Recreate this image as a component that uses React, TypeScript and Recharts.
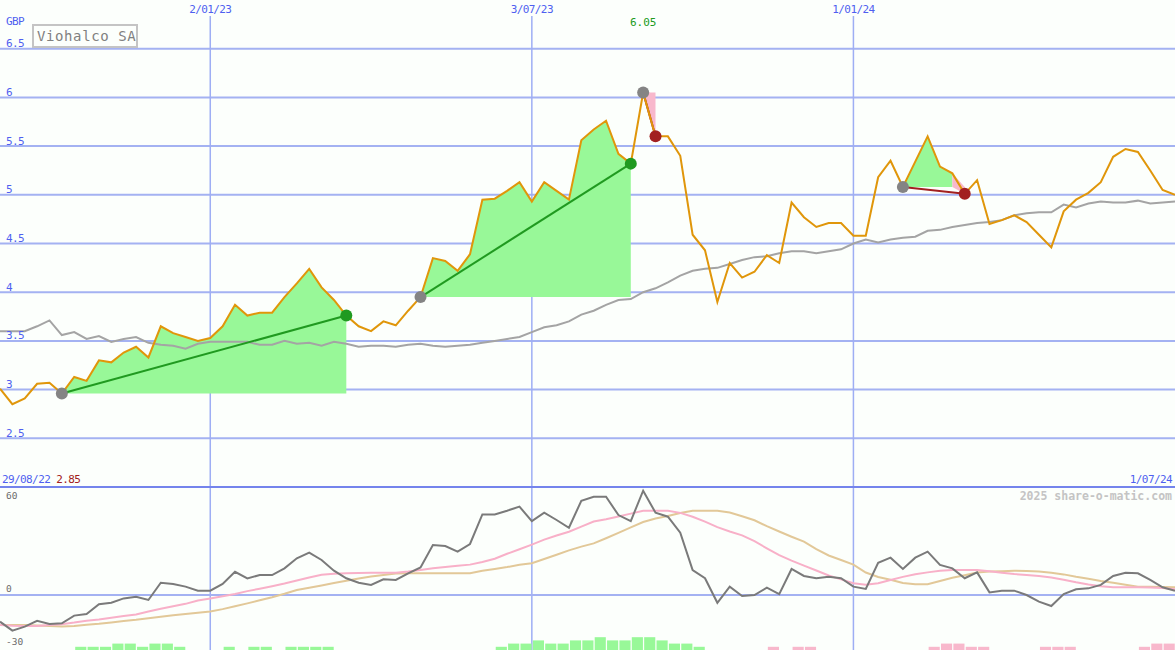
import React from 'react';
import { ComposedChart, Line, Area, Bar, XAxis, YAxis, CartesianGrid, ReferenceLine } from 'recharts';

// ---------- data ----------
const startDateLabel = '29/08/22';
const endDateLabel = '1/07/24';
const titleText = 'Viohalco SA';
const currencyLabel = 'GBP';
const watermark = '2025 share-o-matic.com';

const dateTickIdx = [17, 43, 69];
const dateTickLabels = ['2/01/23', '3/07/23', '1/01/24'];
const priceTicks = [2.5, 3, 3.5, 4, 4.5, 5, 5.5, 6, 6.5];
const oscTicks = [-30, 0, 60];

const price = [
  3.01, 2.85, 2.91, 3.06, 3.07, 2.96, 3.13, 3.09, 3.30, 3.28,
  3.38, 3.44, 3.33, 3.65, 3.58, 3.54, 3.50, 3.53, 3.65, 3.87,
  3.76, 3.79, 3.79, 3.95, 4.09, 4.24, 4.05, 3.92, 3.76, 3.65,
  3.60, 3.70, 3.66, 3.81, 3.95, 4.35, 4.32, 4.22, 4.39, 4.95,
  4.96, 5.04, 5.13, 4.93, 5.13, 5.04, 4.95, 5.56, 5.67, 5.76,
  5.42, 5.32, 6.05, 5.60, 5.60, 5.40, 4.59, 4.43, 3.90, 4.30,
  4.15, 4.21, 4.38, 4.30, 4.92, 4.77, 4.67, 4.71, 4.71, 4.58,
  4.58, 5.18, 5.35, 5.08, 5.34, 5.60, 5.29, 5.22, 5.01, 5.15,
  4.70, 4.74, 4.79, 4.72, 4.59, 4.46, 4.83, 4.95, 5.02, 5.13,
  5.39, 5.47, 5.44, 5.25, 5.05, 5.00,
];

const movingAvg = [
  3.60, 3.60, 3.60, 3.65, 3.71, 3.56, 3.59, 3.52, 3.55, 3.49,
  3.52, 3.54, 3.48, 3.46, 3.45, 3.42, 3.47, 3.49, 3.49, 3.49,
  3.49, 3.46, 3.46, 3.50, 3.47, 3.48, 3.45, 3.49, 3.47, 3.44,
  3.45, 3.45, 3.44, 3.46, 3.47, 3.45, 3.44, 3.45, 3.46, 3.48,
  3.50, 3.52, 3.54, 3.59, 3.64, 3.66, 3.70, 3.77, 3.81, 3.87,
  3.92, 3.93, 4.00, 4.04, 4.10, 4.17, 4.22, 4.24, 4.25, 4.29,
  4.33, 4.36, 4.37, 4.40, 4.42, 4.42, 4.40, 4.42, 4.44, 4.50,
  4.54, 4.51, 4.54, 4.56, 4.57, 4.63, 4.64, 4.67, 4.69, 4.71,
  4.72, 4.74, 4.79, 4.81, 4.82, 4.82, 4.90, 4.87, 4.91, 4.93,
  4.92, 4.92, 4.94, 4.91, 4.92, 4.93,
];

const oscillator = [
  -17.2, -23, -20.4, -16.6, -18.7, -18.3, -13.3, -12.3, -6, -5,
  -2.2, -1.1, -3.2, 7.9, 7.1, 5.4, 2.8, 2.8, 7.1, 15,
  10.7, 12.9, 12.9, 17.2, 23.7, 27.3, 22.6, 15.7, 10.8, 7.9,
  6.5, 10.1, 9.7, 14, 17.8, 32.3, 31.6, 28, 32.9, 52,
  52, 54.4, 57, 47.7, 53.1, 48.4, 43.4, 60.8, 63.4, 63.4,
  51.6, 47.7, 67.3, 53.1, 50.5, 40.2, 16.1, 10.8, -5, 5.4,
  -0.6, 0, 4.7, 0.6, 16.8, 12.3, 10.8, 11.8, 10.8, 5.4,
  3.9, 20.8, 24.1, 16.8, 24.1, 28, 19.4, 17.2, 10.8, 14.6,
  1.7, 2.8, 2.8, 0, -4.3, -7.1, 0.6, 3.7, 4.3, 6.5,
  12.3, 14.4, 14, 9.7, 5, 2.8,
];

const signalFast = [
  -19.4, -19.8, -20, -20, -19.3, -18.8, -17.8, -16.6, -15.8, -14.7,
  -13.6, -12.6, -10.7, -8.9, -7.2, -5.7, -3.5, -2.2, -0.8, 0.7,
  2.5, 4.1, 5.7, 7.4, 9.3, 11.3, 13.1, 13.7, 14.0, 14.2,
  14.3, 14.4, 14.4, 15.1, 16.2, 17.2, 18.0, 18.8, 19.6, 21.3,
  23.4, 26.6, 29.5, 32.5, 35.7, 38.4, 40.8, 44.1, 47.4, 48.9,
  50.7, 52.5, 54.4, 54.4, 54.4, 53.0, 50.5, 47.3, 43.8, 41.0,
  38.5, 34.7, 30.1, 25.7, 22.2, 19.0, 15.8, 12.6, 10.1, 7.6,
  6.6, 7.6, 9.7, 11.7, 13.4, 14.6, 15.6, 16.1, 16.1, 16.1,
  15.3, 14.4, 13.5, 12.9, 12.2, 11.3, 9.9, 8.2, 6.8, 5.6,
  5.0, 5.0, 5.0, 4.9, 4.5, 3.7,
];

const signalSlow = [
  -19.4, -19.4, -19.4, -19.6, -20.0, -20.3, -20.0, -19.2, -18.6, -17.7,
  -16.8, -16.0, -15.0, -14.0, -13.1, -12.3, -11.4, -10.7, -9.1, -7.3,
  -5.4, -3.4, -1.4, 0.8, 3.2, 4.7, 6.2, 7.7, 9.2, 10.6,
  11.9, 12.9, 13.9, 14.0, 14.0, 14.0, 14.0, 14.0, 14.1, 15.6,
  16.8, 18.0, 19.5, 20.5, 23.2, 26.0, 28.8, 31.2, 33.3, 36.6,
  40.1, 43.6, 47.1, 49.3, 51.0, 52.9, 54.4, 54.4, 54.4, 53.2,
  50.8, 48.2, 44.4, 41.0, 37.6, 34.4, 29.6, 25.5, 22.6, 19.6,
  14.5, 11.6, 9.9, 7.8, 6.9, 6.9, 9.0, 11.1, 12.8, 14.5,
  15.2, 15.4, 15.7, 15.5, 15.2, 14.4, 13.3, 11.8, 10.5, 9.1,
  7.9, 6.6, 5.4, 5.3, 5.2, 5.0,
];

const histUp = [
  0, 0, 0, 0, 0, 0, 1, 1, 1, 2,
  2, 1, 2, 2, 1, 0, 0, 0, 1, 0,
  1, 1, 0, 1, 1, 1, 1, 0, 0, 0,
  0, 0, 0, 0, 0, 0, 0, 0, 0, 0,
  1, 2, 2, 3, 2, 2, 3, 3, 4, 3,
  3, 4, 4, 3, 2, 2, 1, 0, 0, 0,
  0, 0, 0, 0, 0, 0, 0, 0, 0, 0,
  0, 0, 0, 0, 0, 0, 0, 0, 0, 0,
  0, 0, 0, 0, 0, 0, 0, 0, 0, 0,
  0, 0, 0, 0, 0, 0,
];

const histDown = [
  0, 0, 0, 0, 0, 0, 0, 0, 0, 0,
  0, 0, 0, 0, 0, 0, 0, 0, 0, 0,
  0, 0, 0, 0, 0, 0, 0, 0, 0, 0,
  0, 0, 0, 0, 0, 0, 0, 0, 0, 0,
  0, 0, 0, 0, 0, 0, 0, 0, 0, 0,
  0, 0, 0, 0, 0, 0, 0, 0, 0, 0,
  0, 0, 1, 0, 1, 1, 0, 0, 0, 0,
  0, 0, 0, 0, 0, 1, 2, 2, 1, 1,
  0, 0, 0, 0, 1, 1, 1, 0, 0, 0,
  0, 0, 1, 2, 2, 0,
];

// trade signals: start index -> end index
const signals = [
  { from: 5, to: 28 },
  { from: 34, to: 51 },
  { from: 52, to: 53 },
  { from: 73, to: 78 },
];

// ---------- styling ----------
const W = 1175;
const H = 650;
const MONO = '"DejaVu Sans Mono", "Liberation Mono", monospace';
const BLUE = '#4f5ff0';
const GRID = '#a4b2f2';
const SEP = '#7484ec';
const ORANGE = '#e0960a';
const MA_GRAY = '#a4a4a4';
const FILL_GREEN = '#98f898';
const FILL_PINK = '#f8b8cc';
const GREEN = '#209a20';
const RED = '#a22020';
const MARK_GRAY = '#848484';
const OSC_DARK = '#7a7a7a';
const SIG_PINK = '#f8b0c8';
const SIG_TAN = '#e2c898';

const maxVal = Math.max(...price);
const maxIdx = price.indexOf(maxVal);
const minVal = Math.min(...price);

const isGain = (s: { from: number; to: number }) => price[s.to] > price[s.from];

const data = price.map((p, i) => {
  const row: any = {
    i,
    price: p,
    ma: movingAvg[i],
    osc: oscillator[i],
    sigA: signalFast[i],
    sigB: signalSlow[i],
    up: histUp[i] ? histUp[i] : null,
    down: histDown[i] ? histDown[i] : null,
  };
  signals.forEach((s, k) => {
    const base = price[s.from];
    const gain = isGain(s);
    const greenEnd = gain ? s.to : s.to - 1;
    const pinkStart = gain ? s.to + 1 : s.to - 1;
    row['g' + k] = i >= s.from && i <= greenEnd ? [base, Math.max(p, base)] : null;
    row['p' + k] = i >= pinkStart && i <= s.to ? [Math.min(p, base), Math.max(p, base)] : null;
    row['t' + k] = i === s.from || i === s.to ? p : null;
  });
  row.mkStart = signals.some((s) => s.from === i) ? p : null;
  row.mkGain = signals.some((s) => s.to === i && isGain(s)) ? p : null;
  row.mkLoss = signals.some((s) => s.to === i && !isGain(s)) ? p : null;
  return row;
});

const DateTick = (props: any) => {
  const { x, payload } = props;
  const idx = dateTickIdx.indexOf(payload.value);
  return (
    <text x={x} y={12.5} textAnchor="middle" fill={BLUE} fontSize={11} fontFamily={MONO} letterSpacing={-0.6}>
      {dateTickLabels[idx]}
    </text>
  );
};

const PriceTick = (props: any) => {
  const { y, payload } = props;
  const v = payload.value;
  return (
    <text x={6} y={y - 1.5} textAnchor="start" fill={BLUE} fontSize={11} fontFamily={MONO} letterSpacing={-0.6}>
      {Number.isInteger(v) ? String(v) : v.toFixed(1)}
    </text>
  );
};

const OscTick = (props: any) => {
  const { y, payload } = props;
  const v = payload.value;
  return (
    <text x={6} y={v < 0 ? y + 3.5 : y - 3} textAnchor="start" fill="#6c6c6c" fontSize={9.5} fontFamily={MONO}>
      {String(v)}
    </text>
  );
};

export default function App() {
  return (
    <div style={{ position: 'absolute', left: 0, top: 0, width: W, height: H, background: '#fcfffc', overflow: 'hidden' }}>
      <ComposedChart width={W} height={H} data={data} margin={{ top: 0, right: 0, bottom: 0, left: 0 }}>
        <XAxis
          dataKey="i"
          type="number"
          domain={[0, 95]}
          allowDataOverflow
          orientation="top"
          height={16}
          ticks={dateTickIdx}
          interval={0}
          axisLine={false}
          tickLine={false}
          tick={DateTick}
        />
        <XAxis xAxisId="h" dataKey="i" type="number" domain={[-0.5, 94.5]} allowDataOverflow hide />
        <YAxis
          yAxisId="price"
          type="number"
          domain={[0.3265, 6.8357]}
          allowDataOverflow
          ticks={priceTicks}
          interval={0}
          width={40}
          mirror
          axisLine={false}
          tickLine={false}
          tick={PriceTick}
        />
        <YAxis
          yAxisId="osc"
          type="number"
          domain={[-35.48, 373.55]}
          allowDataOverflow
          ticks={oscTicks}
          interval={0}
          width={40}
          mirror
          axisLine={false}
          tickLine={false}
          tick={OscTick}
        />
        <YAxis yAxisId="hist" type="number" domain={[0, 198]} allowDataOverflow hide />

        <CartesianGrid yAxisId="price" vertical={false} syncWithTicks stroke={GRID} strokeWidth={2} fill="none" />
        <CartesianGrid yAxisId="price" horizontal={false} syncWithTicks stroke="#9eaef4" strokeWidth={1.5} fill="none" />

        <ReferenceLine yAxisId="price" y={2} stroke={SEP} strokeWidth={2} />
        <ReferenceLine yAxisId="osc" y={0} stroke={GRID} strokeWidth={2} />
        <ReferenceLine
          yAxisId="price"
          x={maxIdx}
          stroke="none"
          label={{ value: maxVal.toFixed(2), position: 'insideTop', offset: 2, fill: GREEN, fontSize: 11, fontFamily: MONO }}
        />

        {signals.map((s, k) => (
          <Area
            key={'g' + k}
            yAxisId="price"
            dataKey={'g' + k}
            stroke="none"
            fill={FILL_GREEN}
            fillOpacity={1}
            isAnimationActive={false}
            activeDot={false}
          />
        ))}
        {signals.map((s, k) => (
          <Area
            key={'p' + k}
            yAxisId="price"
            dataKey={'p' + k}
            stroke="none"
            fill={FILL_PINK}
            fillOpacity={1}
            isAnimationActive={false}
            activeDot={false}
          />
        ))}

        <Bar xAxisId="h" yAxisId="hist" dataKey="up" stackId="h" fill={FILL_GREEN} barSize={W / 95} isAnimationActive={false} />
        <Bar xAxisId="h" yAxisId="hist" dataKey="down" stackId="h" fill={FILL_PINK} barSize={W / 95} isAnimationActive={false} />

        <Line yAxisId="osc" dataKey="sigB" stroke={SIG_TAN} strokeWidth={2} dot={false} activeDot={false} isAnimationActive={false} />
        <Line yAxisId="osc" dataKey="sigA" stroke={SIG_PINK} strokeWidth={2} dot={false} activeDot={false} isAnimationActive={false} />
        <Line yAxisId="osc" dataKey="osc" stroke={OSC_DARK} strokeWidth={2} dot={false} activeDot={false} isAnimationActive={false} />

        <Line yAxisId="price" dataKey="ma" stroke={MA_GRAY} strokeWidth={2} dot={false} activeDot={false} isAnimationActive={false} />

        {signals.map((s, k) => (
          <Line
            key={'t' + k}
            yAxisId="price"
            dataKey={'t' + k}
            stroke={isGain(s) ? GREEN : RED}
            strokeWidth={2}
            connectNulls
            dot={false}
            activeDot={false}
            isAnimationActive={false}
          />
        ))}

        <Line yAxisId="price" dataKey="price" stroke={ORANGE} strokeWidth={2} dot={false} activeDot={false} isAnimationActive={false} />

        <Line yAxisId="price" dataKey="mkStart" stroke="none" dot={{ r: 6, fill: MARK_GRAY, stroke: 'none' }} activeDot={false} isAnimationActive={false} />
        <Line yAxisId="price" dataKey="mkGain" stroke="none" dot={{ r: 6, fill: GREEN, stroke: 'none' }} activeDot={false} isAnimationActive={false} />
        <Line yAxisId="price" dataKey="mkLoss" stroke="none" dot={{ r: 6, fill: RED, stroke: 'none' }} activeDot={false} isAnimationActive={false} />
      </ComposedChart>

      <svg width={W} height={H} style={{ position: 'absolute', left: 0, top: 0, pointerEvents: 'none' }}>
        <text x={6} y={25} fill={BLUE} fontSize={11} fontFamily={MONO} letterSpacing={-0.6}>{currencyLabel}</text>
        <rect x={33} y={25} width={104} height={22} fill="#fcfffc" stroke="#c4c4c4" strokeWidth={2} />
        <text x={37} y={41} fill="#808080" fontSize={14} fontFamily={MONO} letterSpacing={0.6}>{titleText}</text>
        <text x={2} y={482.5} fontSize={11} fontFamily={MONO} letterSpacing={-0.6}>
          <tspan fill={BLUE}>{startDateLabel}</tspan>
          <tspan fill={RED}>{' ' + minVal.toFixed(2)}</tspan>
        </text>
        <text x={1172} y={482.5} textAnchor="end" fill={BLUE} fontSize={11} fontFamily={MONO} letterSpacing={-0.6}>{endDateLabel}</text>
        <text x={1172} y={500} textAnchor="end" fill="#c4c4c4" fontSize={11.5} fontWeight="bold" fontFamily={MONO}>{watermark}</text>
      </svg>
    </div>
  );
}
